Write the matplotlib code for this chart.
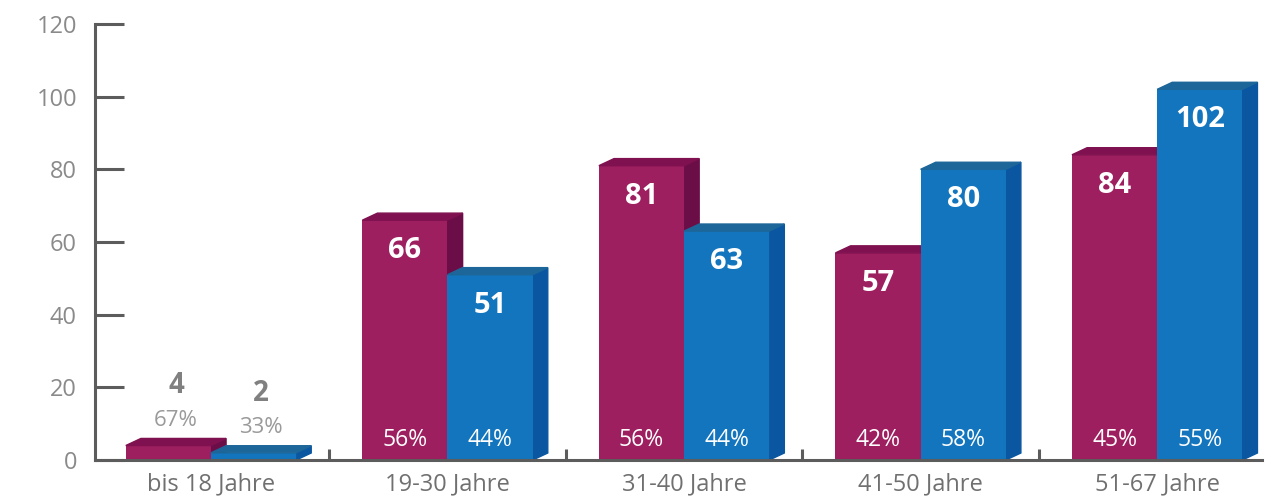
import matplotlib.pyplot as plt
from matplotlib.patches import Polygon

# Daten
gruppen = ["bis 18 Jahre", "19-30 Jahre", "31-40 Jahre", "41-50 Jahre", "51-67 Jahre"]
werte_a = [4, 66, 81, 57, 84]
werte_b = [2, 51, 63, 80, 102]
anteil_a = ["67%", "56%", "56%", "42%", "45%"]
anteil_b = ["33%", "44%", "44%", "58%", "55%"]

plt.rcParams['font.family'] = ['Open Sans', 'DejaVu Sans']

# Farben: Vorderseite, Oberseite, Seite
farben_a = ("#9e1f5f", "#7f1150", "#6b0d47")
farben_b = ("#1275bd", "#1d6699", "#0a56a0")

breite = 0.36
dx, dy = 0.064, 1.95  # 3D-Tiefe

fig = plt.figure(figsize=(12.84, 4.99), dpi=100)
ax = fig.add_axes([0.074, 0.078, 0.909, 0.874])


def balken_3d(x_links, h, farben):
    front, top, side = farben
    ax.bar(x_links, h, width=breite, align='edge', color=front, zorder=3)
    x_r = x_links + breite
    ax.add_patch(Polygon([(x_links, h), (x_r, h), (x_r + dx, h + dy), (x_links + dx, h + dy)],
                         closed=True, color=top, zorder=3, clip_on=False))
    ax.add_patch(Polygon([(x_r, 0), (x_r + dx, dy), (x_r + dx, h + dy), (x_r, h)],
                         closed=True, color=side, zorder=2, clip_on=False))


for i in range(len(gruppen)):
    balken_3d(i - breite, werte_a[i], farben_a)
    balken_3d(i, werte_b[i], farben_b)

    for x, w, p in [(i - breite / 2, werte_a[i], anteil_a[i]), (i + breite / 2, werte_b[i], anteil_b[i])]:
        if w < 20:
            # kleine Werte oberhalb der Balken
            ax.annotate(str(w), (x + dx / 2, w), xytext=(0, 43), textcoords='offset points',
                        ha='center', va='center', fontsize=20, fontweight='bold', color='#808080')
            ax.annotate(p, (x + dx / 2, w), xytext=(0, 18), textcoords='offset points',
                        ha='center', va='center', fontsize=16, color='#9a9a9a')
        else:
            ax.annotate(str(w), (x, w), xytext=(0, -22), textcoords='offset points',
                        ha='center', va='center', fontsize=21, fontweight='bold', color='white', zorder=5)
            ax.text(x, 5.5, p, ha='center', va='center', fontsize=16.5, color='white', zorder=5)

ax.set_xlim(-0.49, 4.444)
ax.set_ylim(0, 120)
ax.set_yticks(range(0, 121, 20))

ax.set_xticks([0.5, 1.5, 2.5, 3.5])
ax.set_xticklabels([])
ax.set_xticks(range(len(gruppen)), minor=True)
ax.set_xticklabels(gruppen, minor=True)

for s in ['top', 'right']:
    ax.spines[s].set_visible(False)
for s in ['left', 'bottom']:
    ax.spines[s].set_color('#5c5c5c')
    ax.spines[s].set_linewidth(2.2)
    ax.spines[s].set_zorder(4)

ax.tick_params(axis='y', direction='in', length=21, width=2.2, color='#5c5c5c',
               labelsize=17, labelcolor='#8a8a8a', pad=13)
ax.tick_params(axis='x', which='major', direction='in', length=8, width=2.2, color='#5c5c5c')
ax.tick_params(axis='x', which='minor', length=0, labelsize=17, labelcolor='#707070', pad=9)

plt.savefig("out.png", dpi=100)
